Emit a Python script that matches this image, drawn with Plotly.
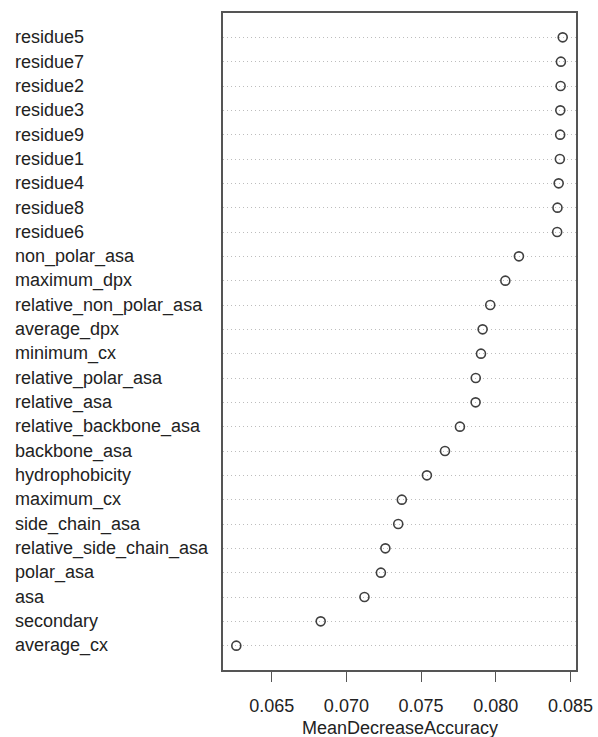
import plotly.graph_objects as go

features = ["residue5", "residue7", "residue2", "residue3", "residue9", "residue1",
            "residue4", "residue8", "residue6", "non_polar_asa", "maximum_dpx",
            "relative_non_polar_asa", "average_dpx", "minimum_cx", "relative_polar_asa",
            "relative_asa", "relative_backbone_asa", "backbone_asa", "hydrophobicity",
            "maximum_cx", "side_chain_asa", "relative_side_chain_asa", "polar_asa",
            "asa", "secondary", "average_cx"]
mda = [0.08448, 0.08436, 0.08434, 0.08432, 0.08431, 0.08429,
       0.08421, 0.08413, 0.08411, 0.08155, 0.08064,
       0.07963, 0.07912, 0.07901, 0.07866,
       0.07865, 0.07760, 0.07660, 0.07539,
       0.07371, 0.07347, 0.07261, 0.07231,
       0.07121, 0.06828, 0.06263]
x_ticks = [0.065, 0.070, 0.075, 0.080, 0.085]
x_title = "MeanDecreaseAccuracy"

n = len(features)
ypos = [n - i for i in range(n)]

W, H = 598, 737
L, R, T, B = 223, 22, 13, 67
plot_w = W - L - R
plot_h = H - T - B
FONT = "Liberation Sans, Arial, Helvetica, sans-serif"

fig = go.Figure()
fig.add_trace(go.Scatter(
    x=mda, y=ypos, mode="markers",
    marker=dict(symbol="circle-open", size=9, color="#404040", line=dict(width=1.6, color="#404040")),
    hoverinfo="skip", showlegend=False,
))

for name, yv in zip(features, ypos):
    fig.add_annotation(
        x=-(L - 13) / plot_w, xref="paper", y=yv, yref="y",
        text=name, showarrow=False, xanchor="left", yanchor="middle",
        font=dict(family=FONT, size=18, color="#222222"),
    )

fig.add_annotation(
    x=0.5, xref="paper", y=-(728 - (H - B)) / plot_h, yref="paper",
    text=x_title, showarrow=False, xanchor="center", yanchor="middle",
    font=dict(family=FONT, size=18, color="#222222"),
)

fig.update_layout(
    width=W, height=H,
    margin=dict(l=L, r=R, t=T, b=B, autoexpand=False),
    plot_bgcolor="white", paper_bgcolor="white",
    font=dict(family=FONT, size=18, color="#222222"),
    hovermode=False,
)
fig.update_xaxes(
    range=[0.06174, 0.08537], tickvals=x_ticks, ticktext=[f"{v:.3f}" for v in x_ticks],
    ticks="outside", ticklen=10, tickwidth=1.2, tickcolor="#555555",
    showline=True, linecolor="#555555", linewidth=1.5, mirror=True,
    showgrid=False, zeroline=False, automargin=False,
    tickfont=dict(size=18, color="#222222"), ticklabelstandoff=9,
)
fig.update_yaxes(
    range=[0, 27], tickvals=ypos, showticklabels=False, ticks="",
    showgrid=True, gridcolor="#bdbdbd", gridwidth=1, griddash="1px,3px",
    showline=True, linecolor="#555555", linewidth=1.5, mirror=True, zeroline=False,
    automargin=False,
)

fig.write_html(
    "out.html",
    config={"displayModeBar": False},
    post_script="document.body.style.margin='0';document.body.style.overflow='hidden';",
)
